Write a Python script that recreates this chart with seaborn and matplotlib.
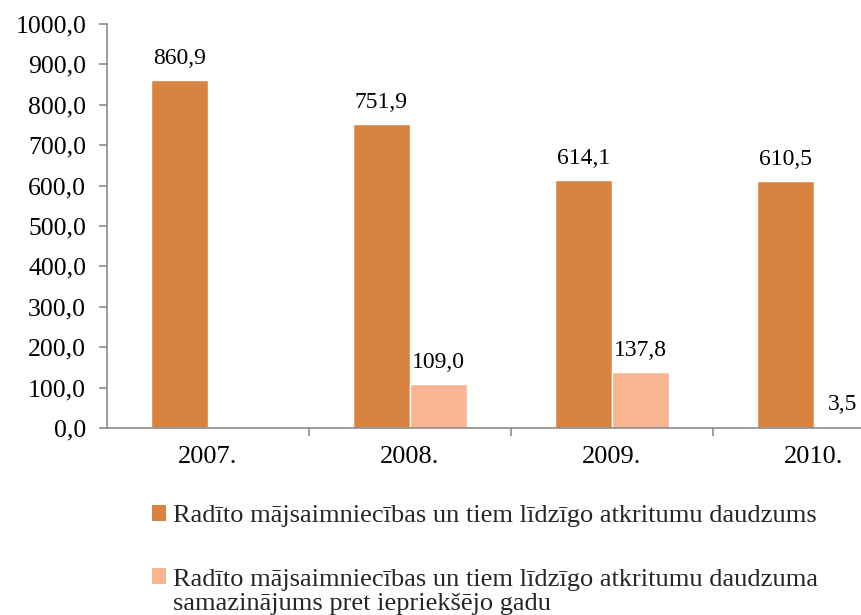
import matplotlib
matplotlib.use("Agg")
import matplotlib.pyplot as plt
import seaborn as sns
import pandas as pd
from matplotlib.patches import Patch, Rectangle
from matplotlib.legend_handler import HandlerPatch

years = ["2007.", "2008.", "2009.", "2010."]
amount = [860.9, 751.9, 614.1, 610.5]
reduction = [None, 109.0, 137.8, 3.5]
series_names = [
    "Radīto mājsaimniecības un tiem līdzīgo atkritumu daudzums",
    "Radīto mājsaimniecības un tiem līdzīgo atkritumu daudzuma\nsamazinājums pret iepriekšējo gadu",
]
colors = ["#D98341", "#F9B492"]
y_ticks = [0, 100, 200, 300, 400, 500, 600, 700, 800, 900, 1000]

sns.set_theme(style="white")
plt.rcParams["font.family"] = ["Liberation Serif", "DejaVu Serif"]

rows = []
for i, y in enumerate(years):
    rows.append({"year": y, "series": series_names[0], "value": amount[i]})
    if reduction[i] is not None:
        rows.append({"year": y, "series": series_names[1], "value": reduction[i]})
df = pd.DataFrame(rows)

fig = plt.figure(figsize=(8.62, 6.15), dpi=100)
ax = fig.add_axes([107 / 862, 1 - 428 / 615, 808 / 862, 404 / 615])

sns.barplot(data=df, x="year", y="value", hue="series", order=years,
            hue_order=series_names, palette=colors, width=0.565,
            saturation=1, ax=ax, legend=False)

ax.set_xlim(-0.5, 3.5)
ax.set_ylim(0, 1000)
ax.set_yticks(y_ticks)
ax.set_yticklabels([f"{v:.1f}".replace(".", ",") for v in y_ticks])
ax.set_xlabel("")
ax.set_ylabel("")

for s in ["top", "right"]:
    ax.spines[s].set_visible(False)
for s in ["left", "bottom"]:
    ax.spines[s].set_color("#8C8C8C")
    ax.spines[s].set_linewidth(1.2)

ax.tick_params(axis="y", which="major", left=True, length=6, width=1.2,
               color="#8C8C8C", pad=9, labelsize=18.5, labelcolor="black")
ax.set_xticks([0.5, 1.5, 2.5], minor=True)
ax.tick_params(axis="x", which="minor", bottom=True, length=6, width=1.2,
               color="#8C8C8C")
ax.tick_params(axis="x", which="major", bottom=False, length=0, pad=13,
               labelsize=19, labelcolor="black")

# value labels above each bar
for container in ax.containers:
    labels = []
    for bar in container:
        h = bar.get_height()
        labels.append("" if pd.isna(h) else f"{h:.1f}".replace(".", ","))
    ax.bar_label(container, labels=labels, padding=8, fontsize=17,
                 color="black")


class FirstLineHandler(HandlerPatch):
    """Square legend key aligned with the first line of a wrapped label."""

    def __init__(self, shift=0.0, **kw):
        super().__init__(**kw)
        self.shift = shift

    def create_artists(self, legend, orig_handle, xdescent, ydescent,
                       width, height, fontsize, trans):
        p = Rectangle((-xdescent, -ydescent + self.shift), width, height,
                      facecolor=orig_handle.get_facecolor(),
                      edgecolor="none", transform=trans)
        return [p]


handles = [Patch(facecolor=c, edgecolor="none") for c in colors]
leg = fig.legend(handles, series_names, loc="upper left",
                 bbox_to_anchor=(152 / 862, 1 - 505 / 615), frameon=False,
                 fontsize=19, handlelength=0.53, handleheight=0.53,
                 handletextpad=0.25, labelspacing=1.6, borderpad=0,
                 borderaxespad=0,
                 handler_map={handles[0]: FirstLineHandler(0.0),
                              handles[1]: FirstLineHandler(11.0)})
for t in leg.get_texts():
    t.set_linespacing(1.1)

fig.savefig("out.png", dpi=100)
